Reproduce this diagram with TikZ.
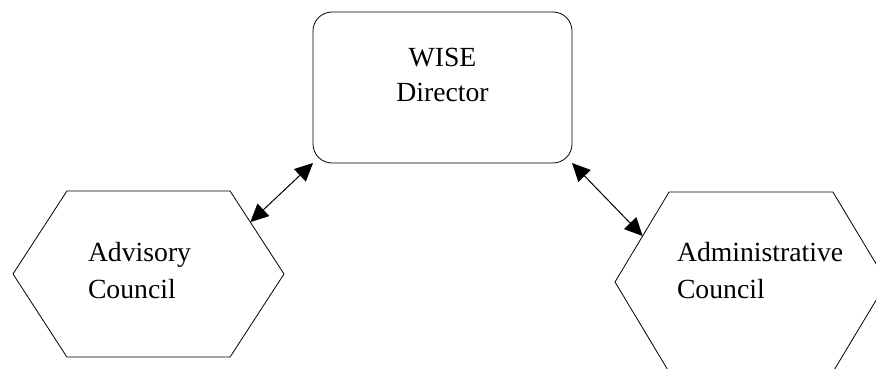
\documentclass[tikz,border=0pt]{standalone}
\usepackage{fontspec}
\setmainfont{Liberation Serif}
\usetikzlibrary{positioning,arrows.meta,shapes.symbols}

\begin{document}
\begin{tikzpicture}[
	x=1pt, y=-1pt,
	mybox/.style = {
		draw, rectangle, rounded corners=19pt, align=center,
		minimum width=259pt, minimum height=151pt, line width=0.8pt,
		font=\fontsize{27.7}{35}\selectfont, text depth=25pt,
		inner sep=0pt, outer sep=0pt},
	myhex/.style = {
		draw, signal, signal to=east and west, align=left,
		line width=0.8pt, font=\fontsize{27.7}{37.5}\selectfont,
		inner sep=0pt, outer sep=0pt},
	arrow/.style = {line width=1pt, {Triangle[length=18pt,width=17pt]}-{Triangle[length=18pt,width=17pt]}}
]
\useasboundingbox (0,0) rectangle (876,369);

\node (dir) [mybox] at (442.5,87.5) {WISE\\ Director};
\node (adv) [myhex, minimum width=271pt, minimum height=166pt,
             signal pointer angle=114, text width=121pt, text depth=45pt]
             at (148.5,274) {Advisory\\ Council};
\node (adm) [myhex, minimum width=272pt, minimum height=180pt,
             signal pointer angle=118, text width=148pt, text depth=61pt]
             at (751,282) {\mbox{Administrative}\\ Council};

\draw[arrow] (dir.south west) -- (adv.27);
\draw[arrow] (dir.south east) -- (adm.157);
\end{tikzpicture}
\end{document}
